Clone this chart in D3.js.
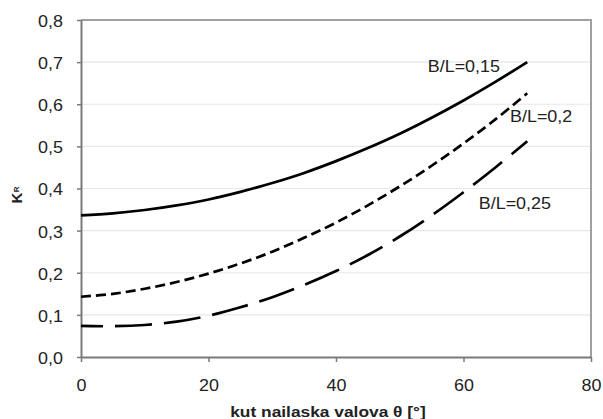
<!DOCTYPE html>
<html>
<head>
<meta charset="utf-8">
<script src="https://cdn.jsdelivr.net/npm/d3@7"></script>
<style>
  html, body { margin: 0; padding: 0; background: #fff; }
  svg { display: block; }
  text { font-family: "Liberation Sans", Arial, sans-serif; fill: #222; }
</style>
</head>
<body>
<svg id="chart" width="603" height="419"></svg>
<script>
// ---- data ----
const theta = [0, 5, 10, 15, 20, 25, 30, 35, 40, 45, 50, 55, 60, 65, 70];
const kr015 = [0.336, 0.341, 0.349, 0.360, 0.374, 0.392, 0.413, 0.437, 0.465, 0.496, 0.530, 0.568, 0.609, 0.653, 0.700];
const kr020 = [0.143, 0.150, 0.162, 0.178, 0.198, 0.222, 0.250, 0.283, 0.319, 0.360, 0.405, 0.454, 0.507, 0.564, 0.626];
const kr025 = [0.074, 0.073, 0.076, 0.084, 0.098, 0.118, 0.142, 0.171, 0.204, 0.242, 0.286, 0.336, 0.391, 0.450, 0.512];
const seriesLabels = ["B/L=0,15", "B/L=0,2", "B/L=0,25"];
const xTicks = [0, 20, 40, 60, 80];
const yTicks = [0, 0.1, 0.2, 0.3, 0.4, 0.5, 0.6, 0.7, 0.8];
const xTitle = "kut nailaska valova θ [°]";

// ---- layout ----
const L = 81, R = 591, T = 20, B = 357;
const SX = 1.12; // horizontal text stretch seen in reference
const svg = d3.select("#chart");

const x = d3.scaleLinear().domain([0, 80]).range([L, R]);
const y = d3.scaleLinear().domain([0, 0.8]).range([B, T]);

// gridlines
svg.append("g").selectAll("line").data(yTicks.filter(d => d > 0 && d < 0.8)).join("line")
  .attr("x1", L).attr("x2", R)
  .attr("y1", d => y(d)).attr("y2", d => y(d))
  .attr("stroke", "#e6e6ec").attr("stroke-width", 1.2);

// plot frame (top and right)
svg.append("line").attr("x1", L).attr("x2", R + 1).attr("y1", T).attr("y2", T)
  .attr("stroke", "#a0a0a0").attr("stroke-width", 2);
svg.append("line").attr("x1", R).attr("x2", R).attr("y1", T).attr("y2", B)
  .attr("stroke", "#a0a0a0").attr("stroke-width", 2);

// axes
const fmtY = d => d.toFixed(1).replace(".", ",");
const yAxis = svg.append("g").attr("transform", `translate(${L},0)`)
  .call(d3.axisLeft(y).tickValues(yTicks).tickFormat(fmtY).tickSize(4).tickSizeOuter(0));
const xAxis = svg.append("g").attr("transform", `translate(0,${B})`)
  .call(d3.axisBottom(x).tickValues(xTicks).tickFormat(d3.format("d")).tickSize(5).tickSizeOuter(0));

[yAxis, xAxis].forEach(a => {
  a.select(".domain").attr("stroke", "#7a7a7a").attr("stroke-width", 2);
  a.selectAll(".tick line").attr("stroke", "#7a7a7a").attr("stroke-width", 1.5);
  a.selectAll(".tick text").attr("font-size", 16).attr("fill", "#222")
    .attr("font-family", '"Liberation Sans", Arial, sans-serif');
});
yAxis.selectAll(".tick text").attr("x", -18 / SX).attr("dy", "0.40em")
  .attr("transform", `scale(${SX},1)`);
xAxis.selectAll(".tick text").attr("y", 34).attr("dy", 0)
  .attr("transform", `scale(${SX},1)`);

// curves
const line = d3.line().x((d, i) => x(theta[i])).y(d => y(d)).curve(d3.curveCatmullRom.alpha(0.5));
const series = [
  { values: kr015, dash: null, offset: 0 },
  { values: kr020, dash: "10,5", offset: 0 },
  { values: kr025, dash: "37,12", offset: 15 }
];
svg.append("g").selectAll("path").data(series).join("path")
  .attr("d", s => line(s.values))
  .attr("fill", "none")
  .attr("stroke", "#000")
  .attr("stroke-width", 2.7)
  .attr("stroke-dasharray", s => s.dash)
  .attr("stroke-dashoffset", s => s.offset);

// series labels (anchored in data units)
const labelAnchors = [[54.4, 0.677], [67.3, 0.5586], [62.4, 0.3506]];
seriesLabels.forEach((t, i) => {
  svg.append("text")
    .attr("transform", `translate(${x(labelAnchors[i][0])},${y(labelAnchors[i][1])}) scale(${SX},1)`)
    .attr("font-size", 16)
    .text(t);
});

// x title
svg.append("text")
  .attr("transform", `translate(328,417) scale(${SX},1)`)
  .attr("text-anchor", "middle")
  .attr("font-size", 15.5)
  .attr("font-weight", "bold")
  .text(xTitle);

// y title K_R
const yt = svg.append("text")
  .attr("transform", "translate(22,203.5) rotate(-90)")
  .attr("font-weight", "bold")
  .attr("font-size", 15);
yt.append("tspan").text("K");
yt.append("tspan").attr("font-size", 8).attr("dy", -2.7).attr("dx", 0.5).text("R");
</script>
</body>
</html>
